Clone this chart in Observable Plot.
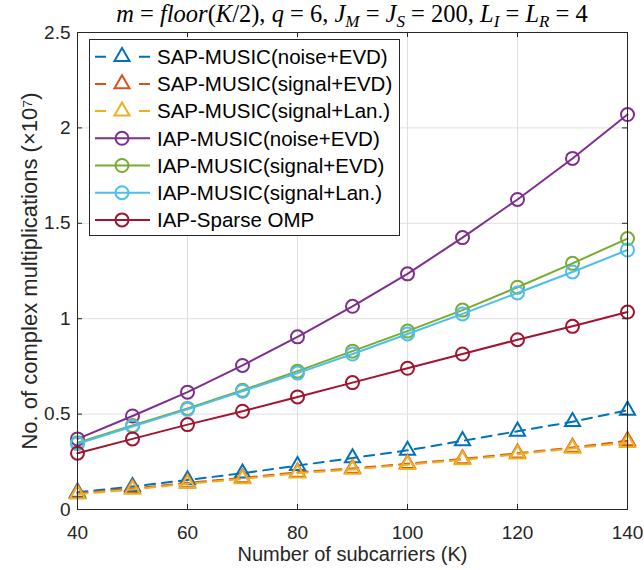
<!DOCTYPE html>
<html><head><meta charset="utf-8">
<script src="https://cdn.jsdelivr.net/npm/d3@7"></script>
<script src="https://cdn.jsdelivr.net/npm/@observablehq/plot@0.6"></script>
<style>
body{margin:0;background:#fff;}
#chart{width:644px;height:570px;}
</style></head><body><div id="chart"></div>
<script>
// ---- data ----
const K = [40, 50, 60, 70, 80, 90, 100, 110, 120, 130, 140];
const sapNoiseEVD  = [0.09, 0.12, 0.155, 0.19, 0.23, 0.27, 0.31, 0.36, 0.41, 0.46, 0.52];
const sapSignalEVD = [0.085, 0.11, 0.14, 0.165, 0.195, 0.215, 0.24, 0.265, 0.295, 0.325, 0.36];
const sapSignalLan = [0.08, 0.105, 0.135, 0.16, 0.19, 0.21, 0.235, 0.26, 0.29, 0.32, 0.35];
const iapNoiseEVD  = [0.37, 0.49, 0.615, 0.755, 0.905, 1.065, 1.235, 1.425, 1.625, 1.84, 2.07];
const iapSignalEVD = [0.35, 0.44, 0.53, 0.625, 0.725, 0.83, 0.935, 1.045, 1.165, 1.29, 1.42];
const iapSignalLan = [0.345, 0.435, 0.525, 0.62, 0.715, 0.815, 0.92, 1.025, 1.135, 1.245, 1.36];
const iapSparseOMP = [0.295, 0.37, 0.445, 0.515, 0.59, 0.665, 0.74, 0.815, 0.89, 0.96, 1.035];

const seriesNames = ["SAP-MUSIC(noise+EVD)", "SAP-MUSIC(signal+EVD)", "SAP-MUSIC(signal+Lan.)",
  "IAP-MUSIC(noise+EVD)", "IAP-MUSIC(signal+EVD)", "IAP-MUSIC(signal+Lan.)", "IAP-Sparse OMP"];
const seriesColors = ["#0072BD", "#D95319", "#EDB120", "#7E2F8E", "#77AC30", "#4DBEEE", "#A2142F"];
const seriesSymbols = ["triangle", "triangle", "triangle", "circle", "circle", "circle", "circle"];
const seriesDashed = [true, true, true, false, false, false, false];

const xTicks = [40, 60, 80, 100, 120, 140];
const yTicks = [0, 0.5, 1, 1.5, 2, 2.5];
const xLabel = "Number of subcarriers (K)";
const yLabel = "No. of complex multiplications (×10⁷)";
// title pieces: [text, italic, subscript]
const titleParts = [["m",1,0],[" = ",0,0],["floor",1,0],["(",0,0],["K",1,0],["/2), ",0,0],["q",1,0],[" = 6, ",0,0],
  ["J",1,0],["M",1,1],[" = ",0,0],["J",1,0],["S",1,1],[" = 200, ",0,0],["L",1,0],["I",1,1],[" = ",0,0],["L",1,0],["R",1,1],[" = 4",0,0]];

// ---- build ----
const seriesValues = [sapNoiseEVD, sapSignalEVD, sapSignalLan, iapNoiseEVD, iapSignalEVD, iapSignalLan, iapSparseOMP];
const rows = seriesValues.flatMap((vals, s) => vals.map((v, i) => ({k: K[i], v, s})));

const W = 644, H = 570, mL = 77, mR = 17, mT = 32, mB = 61;
const plotW = W - mL - mR, plotH = H - mT - mB;
const axisColor = "#262626";
const font = "'Liberation Sans', Arial, sans-serif";

const marks = [
  Plot.gridX(xTicks, {stroke: "#dfdfdf", strokeOpacity: 1, strokeWidth: 1}),
  Plot.gridY(yTicks, {stroke: "#dfdfdf", strokeOpacity: 1, strokeWidth: 1}),
];
seriesNames.forEach((name, s) => {
  const d = rows.filter(r => r.s === s);
  marks.push(Plot.line(d, {x: "k", y: "v", stroke: seriesColors[s], strokeWidth: 2,
    strokeDasharray: seriesDashed[s] ? "10,7" : null}));
  marks.push(Plot.dot(d, {x: "k", y: "v", stroke: seriesColors[s], symbol: seriesSymbols[s],
    r: seriesSymbols[s] === "circle" ? 6.5 : 5.6, strokeWidth: 2, fill: "none"}));
});
marks.push(
  Plot.frame({stroke: axisColor, strokeWidth: 1}),
  Plot.tickX(xTicks, {x: d => d, insetTop: plotH - 5, stroke: axisColor}),
  Plot.tickX(xTicks, {x: d => d, insetBottom: plotH - 5, stroke: axisColor}),
  Plot.tickY(yTicks, {y: d => d, insetRight: plotW - 5, stroke: axisColor}),
  Plot.tickY(yTicks, {y: d => d, insetLeft: plotW - 5, stroke: axisColor}),
  Plot.axisX({ticks: xTicks, tickSize: 0, tickPadding: 16, fontSize: 19, tickFormat: d => String(d), label: null, fill: axisColor}),
  Plot.axisY({ticks: yTicks, tickSize: 0, tickPadding: 7, fontSize: 19, tickFormat: d => String(d), label: null, fill: axisColor}),
  Plot.text([xLabel], {text: d => d, frameAnchor: "bottom", dy: 45, lineAnchor: "middle", textAnchor: "middle", fontSize: 20, fill: axisColor}),
  Plot.text([yLabel], {text: d => d, frameAnchor: "left", dx: -48, rotate: -90, lineAnchor: "middle", textAnchor: "middle", fontSize: 22, fill: axisColor})
);

const svg = Plot.plot({
  width: W, height: H, marginLeft: mL, marginRight: mR, marginTop: mT, marginBottom: mB,
  x: {domain: [40, 140]},
  y: {domain: [0, 2.5]},
  style: {fontFamily: font, background: "#fff", color: axisColor, overflow: "visible"},
  marks
});

const sel = d3.select(svg);
// title
const t = sel.append("text")
  .attr("x", mL + plotW / 2).attr("y", 22)
  .attr("text-anchor", "middle")
  .attr("font-family", "'Liberation Serif', 'DejaVu Serif', serif")
  .attr("font-size", 24.5).attr("fill", "#000");
let prevSub = 0;
titleParts.forEach(([txt, it, sub]) => {
  const ts = t.append("tspan").text(txt).attr("font-style", it ? "italic" : "normal");
  if (sub) ts.attr("font-size", 17);
  const dy = (sub ? 5 : 0) - (prevSub ? 5 : 0);
  if (dy) ts.attr("dy", dy);
  prevSub = sub;
});

// legend
const lg = sel.append("g").attr("text-anchor", "start");
const lx = 89, ly = 39, lw = 310, lh = 196, rowH = 27.2, row0 = 56.7;
lg.append("rect").attr("x", lx + 0.5).attr("y", ly + 0.5).attr("width", lw).attr("height", lh)
  .attr("fill", "#fff").attr("stroke", axisColor).attr("stroke-width", 1);
seriesNames.forEach((name, s) => {
  const y = row0 + s * rowH;
  lg.append("line").attr("x1", 95).attr("x2", 150).attr("y1", y).attr("y2", y)
    .attr("stroke", seriesColors[s]).attr("stroke-width", 2)
    .attr("stroke-dasharray", seriesDashed[s] ? "11,33" : null);
  const sym = seriesSymbols[s] === "circle" ? d3.symbolCircle : d3.symbolTriangle;
  const r = seriesSymbols[s] === "circle" ? 6.5 : 5.6;
  lg.append("path").attr("d", d3.symbol(sym, Math.PI * r * r)())
    .attr("transform", `translate(122,${y})`)
    .attr("fill", "none").attr("stroke", seriesColors[s]).attr("stroke-width", 2);
  lg.append("text").attr("x", 157).attr("y", y).attr("dy", "0.36em").attr("text-anchor", "start")
    .attr("font-family", font).attr("font-size", 20.5).attr("fill", "#000").text(name);
});

document.getElementById("chart").appendChild(svg);
</script></body></html>
